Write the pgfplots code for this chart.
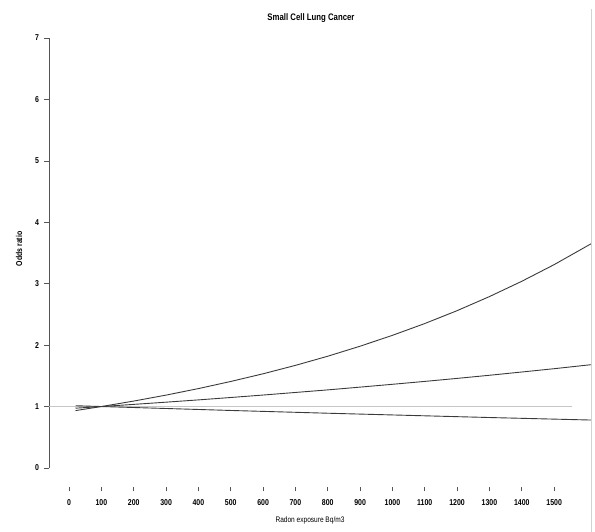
\documentclass[border=0pt]{standalone}
\usepackage{fontspec}
\setmainfont{Liberation Sans}[FakeStretch=0.82]
\usepackage{pgfplots}
\pgfplotsset{compat=1.18}
\definecolor{curve}{HTML}{3A3A3A}
\definecolor{axcol}{HTML}{555555}
\begin{document}
\begin{tikzpicture}
\useasboundingbox (-49pt,-45pt) rectangle (546pt,487pt);
\begin{axis}[
  scale only axis, width=542pt, height=457pt,
  xmin=-62, xmax=1614, ymin=-0.31, ymax=7.13,
  axis x line*=bottom, axis y line*=left,
  x axis line style={draw=none}, y axis line style={draw=none},
  xtick={0,100,...,1500}, ytick={0,1,...,7},
  tick align=outside, major tick length=4.5pt,
  tick style={axcol, line width=0.6pt},
  /pgf/number format/assume math mode=true,
  /pgf/number format/1000 sep={},
  tick label style={font=\bfseries\fontsize{8.5}{9}\selectfont, text=black},
  xticklabel style={yshift=-5pt},
  yticklabel style={xshift=-2pt},
]
\draw[axcol, line width=0.6pt] (0,-0.31) -- (1500,-0.31);
\draw[axcol, line width=0.6pt] (-62,0) -- (-62,7);
\addplot[gray!45, line width=0.5pt] coordinates {(-62,1) (1556,1)};
\addplot[curve, line width=0.9pt] coordinates {
(20,0.934) (100,1) (200,1.089) (300,1.186) (400,1.292) (500,1.408) (600,1.533)
(700,1.670) (800,1.819) (900,1.982) (1000,2.159) (1100,2.351) (1200,2.561)
(1300,2.790) (1400,3.039) (1500,3.310) (1614,3.649)};
\addplot[curve, line width=0.9pt] coordinates {
(20,0.973) (100,1) (200,1.035) (300,1.071) (400,1.108) (500,1.147) (600,1.187)
(700,1.229) (800,1.271) (900,1.316) (1000,1.362) (1100,1.409) (1200,1.458)
(1300,1.509) (1400,1.562) (1500,1.616) (1614,1.681)};
\addplot[curve, line width=0.9pt] coordinates {
(20,1.013) (100,1) (200,0.984) (300,0.968) (400,0.952) (500,0.936) (600,0.921)
(700,0.906) (800,0.891) (900,0.877) (1000,0.863) (1100,0.849) (1200,0.835)
(1300,0.821) (1400,0.808) (1500,0.795) (1614,0.780)};
\end{axis}
\draw[gray!35, line width=0.6pt] (542pt,-45pt) -- (542pt,478pt);
\node[font=\bfseries\fontsize{9.5}{11}\selectfont] at (262pt,469pt) {Small Cell Lung Cancer};
\node[font=\fontsize{8}{9}\selectfont] at (261pt,-33pt) {Radon exposure Bq/m3};
\node[font=\bfseries\fontsize{8.5}{9}\selectfont, rotate=90] at (-30pt,238pt) {Odds ratio};
\end{tikzpicture}
\end{document}
